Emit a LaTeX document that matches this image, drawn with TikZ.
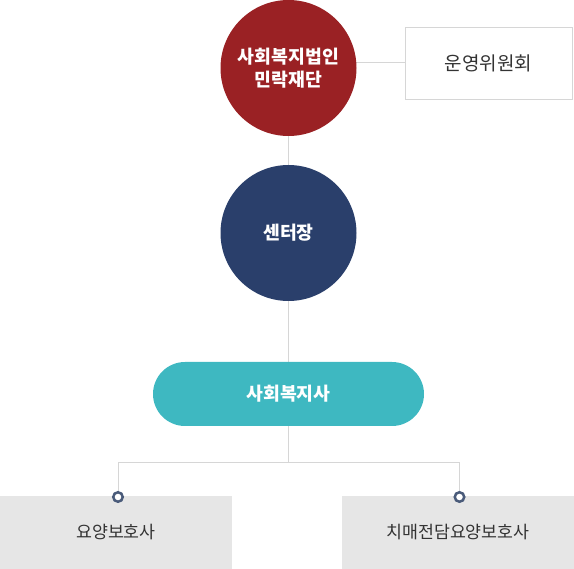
\documentclass[tikz,border=0pt]{standalone}
\usepackage{fontspec}
\newfontfamily\kr{Noto Sans CJK KR}
\usetikzlibrary{backgrounds}
\definecolor{rouge}{HTML}{9A2124}
\definecolor{marine}{HTML}{2A3F6B}
\definecolor{turquoise}{HTML}{3EB8C1}
\definecolor{grisfond}{HTML}{E6E6E6}
\definecolor{grisligne}{HTML}{D6D6D6}
\definecolor{ardoise}{HTML}{4A5B7A}
\definecolor{texte}{HTML}{333333}
\begin{document}
\begin{tikzpicture}[x=1pt,y=-1pt]
\tikzset{rond/.style={circle, minimum size=136pt, inner sep=0pt, align=center, text=white, font=\kr\bfseries\fontsize{18.3}{23}\selectfont}}
\tikzset{cadre/.style={draw=grisligne, fill=white, minimum width=167pt, minimum height=72pt, text=texte, font=\kr\fontsize{19}{22}\selectfont}}
\tikzset{pilule/.style={fill=turquoise, rounded corners=32pt, minimum width=271pt, minimum height=64pt, text=white, font=\kr\bfseries\fontsize{18.3}{22}\selectfont}}
\tikzset{poste/.style={fill=grisfond, minimum width=232pt, minimum height=73pt, inner sep=0pt, text=texte, font=\kr\fontsize{17.3}{20}\selectfont}}
\tikzset{point/.style={circle, draw=ardoise, fill=white, line width=2.5pt, minimum size=9.5pt, inner sep=0pt}}
\tikzset{trait/.style={draw=grisligne, line width=1pt}}
\useasboundingbox (0,0) rectangle (574,569);
\node[rond, fill=rouge] (C1) at (288.5,68) {사회복지법인\\민락재단};
\node[cadre] (B1) at (488.5,63) {운영위원회};
\node[rond, fill=marine] (C2) at (288.5,233) {센터장};
\node[pilule] (P1) at (288.5,394) {사회복지사};
\node[poste] (E1) at (116,532.5) {요양보호사};
\node[poste] (E2) at (458,532.5) {치매전담요양보호사};
\node[point] (D1) at (118,497) {};
\node[point] (D2) at (459.5,497) {};
\coordinate (J) at (288.5,463);
\begin{scope}[on background layer]
\draw[trait] (B1.west) -- (B1.west -| C1.center);
\draw[trait] (C1) -- (C2);
\draw[trait] (C2) -- (P1);
\draw[trait] (P1) -- (J);
\draw[trait] (J) -| (D1);
\draw[trait] (J) -| (D2);
\end{scope}
\end{tikzpicture}
\end{document}
